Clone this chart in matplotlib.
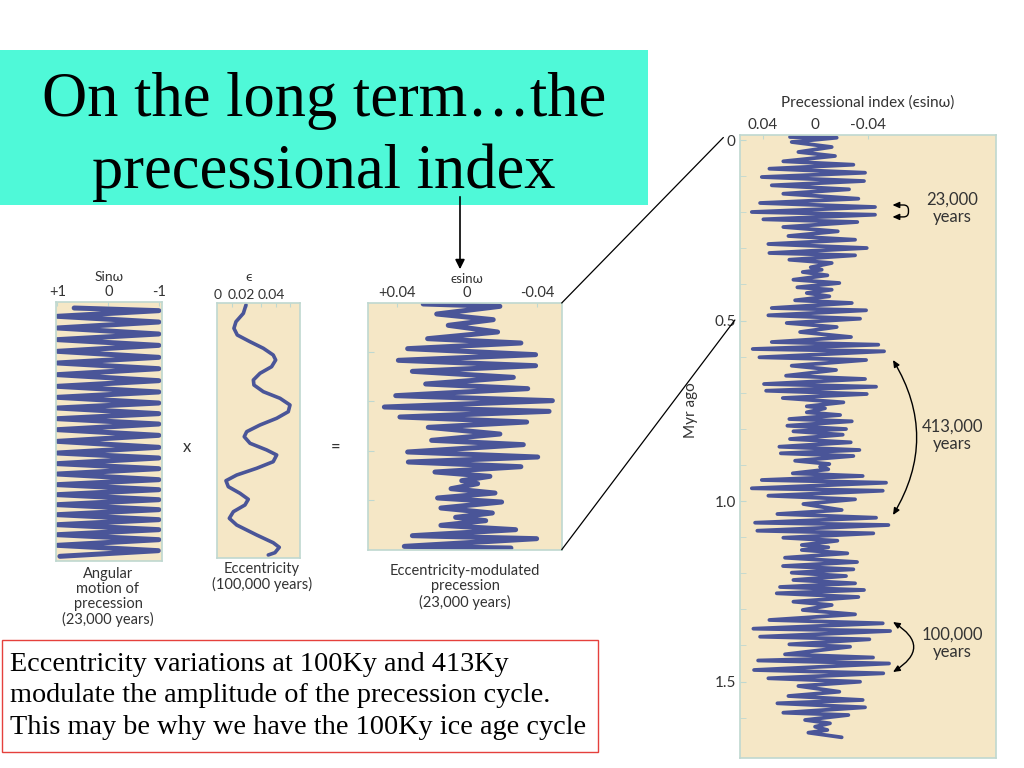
import matplotlib.pyplot as plt
from matplotlib.patches import Rectangle, ConnectionPatch, FancyArrowPatch

plt.rcParams['font.family'] = ['Lato', 'DejaVu Sans']

# ── 1. Data ─────────────────────────────────────────────────────────────────

# panel 1: angular motion of precession (sin w), time in Myr
sin_w_tempo = [0.0116, 0.0167, 0.0276, 0.0386, 0.0501, 0.0617, 0.0726, 0.0836, 0.0951, 0.1067,
               0.1176, 0.1286, 0.1401, 0.1517, 0.1626, 0.1735, 0.1838, 0.1948, 0.2044, 0.2153,
               0.2250, 0.2353, 0.2462, 0.2571, 0.2687, 0.2802, 0.2912, 0.3008, 0.3117, 0.3214,
               0.3317, 0.3426, 0.3522, 0.3619, 0.3715, 0.3812, 0.3908, 0.4004, 0.4101, 0.4197,
               0.4294, 0.4390, 0.4487, 0.4583, 0.4692, 0.4795, 0.4904]
sin_w_valor = [0.67, -0.99, 1.00, -0.99, 1.00, -0.99, 1.00, -0.99, 1.00, -0.99,
               1.00, -0.99, 1.00, -0.99, 1.00, -0.99, 1.00, -0.99, 1.00, -0.99,
               1.00, -0.99, 1.00, -0.99, 1.00, -0.99, 1.00, -0.99, 1.00, -0.99,
               1.00, -0.99, 1.00, -0.99, 1.00, -0.99, 1.00, -0.99, 1.00, -0.99,
               1.00, -0.99, 1.00, -0.99, 1.00, -0.98, 0.95]

# panel 2: eccentricity
exc_tempo = [0.0045, 0.0208, 0.0372, 0.0501, 0.0632, 0.0763, 0.0892, 0.1023, 0.1121, 0.1252,
             0.1381, 0.1512, 0.1610, 0.1741, 0.1870, 0.2001, 0.2132, 0.2261, 0.2392, 0.2523,
             0.2621, 0.2750, 0.2881, 0.2979, 0.3110, 0.3239, 0.3371, 0.3482, 0.3599, 0.3729,
             0.3846, 0.3957, 0.4088, 0.4218, 0.4349, 0.4544, 0.4695, 0.4785, 0.4890, 0.4935]
exc_valor = [0.0195, 0.0177, 0.0126, 0.0112, 0.0135, 0.0223, 0.0315, 0.0383, 0.0400, 0.0372,
             0.0292, 0.0246, 0.0250, 0.0315, 0.0430, 0.0499, 0.0487, 0.0407, 0.0292, 0.0200,
             0.0183, 0.0223, 0.0338, 0.0407, 0.0383, 0.0269, 0.0131, 0.0057, 0.0073, 0.0154,
             0.0211, 0.0188, 0.0108, 0.0080, 0.0131, 0.0269, 0.0383, 0.0425, 0.0395, 0.0349]

# panel 3: eccentricity-modulated precession (e sin w)
mod_tempo = [0.0020, 0.0068, 0.0224, 0.0339, 0.0454, 0.0589, 0.0725, 0.0813, 0.0928, 0.1050,
             0.1165, 0.1274, 0.1389, 0.1511, 0.1646, 0.1741, 0.1883, 0.1985, 0.2114, 0.2202,
             0.2317, 0.2419, 0.2527, 0.2663, 0.2791, 0.2879, 0.3028, 0.3130, 0.3232, 0.3327,
             0.3435, 0.3523, 0.3611, 0.3672, 0.3774, 0.3862, 0.3963, 0.4045, 0.4167, 0.4268,
             0.4356, 0.4424, 0.4519, 0.4607, 0.4729, 0.4790, 0.4946, 0.4980]
mod_valor = [0.0250, -0.0188, 0.0173, -0.0150, 0.0107, -0.0175, 0.0225, -0.0308, 0.0339, -0.0392,
             0.0392, -0.0392, 0.0312, -0.0265, 0.0236, -0.0347, 0.0407, -0.0488, 0.0472, -0.0469,
             0.0383, -0.0341, 0.0221, -0.0188, 0.0202, -0.0322, 0.0339, -0.0404, 0.0335, -0.0308,
             0.0183, -0.0131, 0.0030, -0.0061, 0.0091, -0.0160, 0.0168, -0.0198, 0.0149, -0.0145,
             0.0065, -0.0107, 0.0149, -0.0278, 0.0312, -0.0398, 0.0358, -0.0251]

# panel 4: precessional index over 1.65 Myr
prec_tempo = [-0.0083, -0.0064, 0.0055, 0.0194, 0.0332, 0.0443, 0.0590, 0.0684, 0.0795, 0.0906,
              0.1025, 0.1136, 0.1255, 0.1366, 0.1488, 0.1626, 0.1745, 0.1856, 0.1994, 0.2069,
              0.2197, 0.2271, 0.2410, 0.2529, 0.2659, 0.2762, 0.2881, 0.2992, 0.3130, 0.3194,
              0.3316, 0.3407, 0.3526, 0.3593, 0.3657, 0.3748, 0.3870, 0.3961, 0.4080, 0.4147,
              0.4238, 0.4330, 0.4440, 0.4515, 0.4654, 0.4717, 0.4856, 0.4950, 0.5069, 0.5180,
              0.5319, 0.5457, 0.5596, 0.5670, 0.5789, 0.5853, 0.6019, 0.6094, 0.6252, 0.6371,
              0.6529, 0.6620, 0.6759, 0.6834, 0.6945, 0.7036, 0.7147, 0.7266, 0.7377, 0.7432,
              0.7543, 0.7618, 0.7729, 0.7792, 0.7914, 0.8006, 0.8069, 0.8163, 0.8283, 0.8374,
              0.8496, 0.8587, 0.8679, 0.8753, 0.8884, 0.8975, 0.9050, 0.9122, 0.9233, 0.9307,
              0.9418, 0.9493, 0.9648, 0.9715, 0.9853, 0.9953, 1.0083, 1.0249, 1.0360, 1.0463,
              1.0601, 1.0665, 1.0823, 1.0895, 1.1017, 1.1100, 1.1219, 1.1283, 1.1357, 1.1449,
              1.1571, 1.1690, 1.1801, 1.1892, 1.1986, 1.2078, 1.2188, 1.2280, 1.2382, 1.2465,
              1.2557, 1.2659, 1.2789, 1.2881, 1.3019, 1.3139, 1.3296, 1.3388, 1.3537, 1.3601,
              1.3759, 1.3831, 1.3970, 1.4036, 1.4247, 1.4335, 1.4418, 1.4501, 1.4681, 1.4773,
              1.4911, 1.5006, 1.5125, 1.5283, 1.5402, 1.5512, 1.5604, 1.5715, 1.5864, 1.5928,
              1.6066, 1.6158, 1.6252, 1.6343, 1.6418, 1.6546]
prec_valor = [0.0191, -0.0165, 0.0178, -0.0127, 0.0127, -0.0152, 0.0242, -0.0292, 0.0348, -0.0381,
              0.0406, -0.0373, 0.0330, -0.0259, 0.0242, -0.0330, 0.0419, -0.0457, 0.0482, -0.0457,
              0.0394, -0.0322, 0.0242, -0.0173, 0.0203, -0.0305, 0.0356, -0.0394, 0.0348, -0.0305,
              0.0196, -0.0127, 0.0033, -0.0051, 0.0094, -0.0094, 0.0165, -0.0185, 0.0135, -0.0127,
              0.0063, -0.0109, 0.0152, -0.0280, 0.0330, -0.0389, 0.0356, -0.0343, 0.0216, -0.0165,
              0.0114, -0.0274, 0.0330, -0.0482, 0.0475, -0.0526, 0.0424, -0.0389, 0.0178, -0.0160,
              0.0221, -0.0381, 0.0389, -0.0465, 0.0373, -0.0394, 0.0246, -0.0216, 0.0063, -0.0076,
              0.0063, -0.0191, 0.0196, -0.0280, 0.0211, -0.0236, 0.0165, -0.0211, 0.0191, -0.0272,
              0.0272, -0.0338, 0.0261, -0.0292, 0.0152, -0.0109, -0.0038, -0.0101, 0.0170, -0.0363,
              0.0406, -0.0541, 0.0482, -0.0516, 0.0356, -0.0305, 0.0089, -0.0203, 0.0287, -0.0465,
              0.0457, -0.0559, 0.0440, -0.0444, 0.0242, -0.0170, 0.0101, -0.0101, 0.0101, -0.0246,
              0.0229, -0.0320, 0.0244, -0.0292, 0.0178, -0.0236, 0.0165, -0.0305, 0.0267, -0.0373,
              0.0292, -0.0330, 0.0165, -0.0127, 0.0094, -0.0305, 0.0348, -0.0516, 0.0470, -0.0572,
              0.0419, -0.0414, 0.0196, -0.0267, 0.0229, -0.0442, 0.0434, -0.0564, 0.0465, -0.0520,
              0.0356, -0.0343, 0.0127, -0.0185, 0.0203, -0.0363, 0.0287, -0.0381, 0.0242, -0.0254,
              0.0076, -0.0114, 0.0000, -0.0094, 0.0051, -0.0203]

titulo = 'On the long term…the\nprecessional index'
nota = ('Eccentricity variations at 100Ky and 413Ky\n'
        'modulate the amplitude of the precession cycle.\n'
        'This may be why we have the 100Ky ice age cycle')

# ── 2. Layout helpers ───────────────────────────────────────────────────────
W, H = 1024, 768


def caixa(x0, y0, x1, y1):
    # pixel box (top-left origin) -> figure fraction rect
    return [x0 / W, 1 - y1 / H, (x1 - x0) / W, (y1 - y0) / H]


def px(x, y):
    return (x / W, 1 - y / H)


FUNDO = '#f5e7c6'
BORDA = '#bfd8d0'
AZUL = '#4a5598'
TEXTO = '#333333'


def estilo(ax, topo, rotulos, titulo_eixo, fs=10.5):
    ax.set_facecolor(FUNDO)
    for s in ax.spines.values():
        s.set_color(BORDA)
        s.set_linewidth(1.2)
    ax.xaxis.tick_top()
    ax.set_xticks(topo)
    ax.set_xticklabels(rotulos)
    ax.xaxis.set_label_position('top')
    ax.set_xlabel(titulo_eixo, fontsize=fs - 0.5, color=TEXTO, labelpad=3)
    ax.tick_params(axis='x', direction='in', length=3, color=BORDA, labelsize=fs,
                   labelcolor=TEXTO, pad=2)
    ax.tick_params(axis='y', direction='in', length=4, color=BORDA, labelleft=False)
    ax.set_yticks([])


fig = plt.figure(figsize=(10.24, 7.68), dpi=100)

# ── 3. Slide decorations ────────────────────────────────────────────────────
fig.add_artist(Rectangle(px(0, 205), 648 / W, 155 / H, transform=fig.transFigure,
                         facecolor='#4ff9d8', edgecolor='none'))
fig.text(*px(324, 137), titulo, ha='center', va='center', family='Liberation Serif',
         fontsize=45, linespacing=1.32)
fig.add_artist(FancyArrowPatch(px(460, 194), px(460, 272), transform=fig.transFigure,
                               arrowstyle='-|>', mutation_scale=14, color='black', lw=1.2))

fig.add_artist(Rectangle(px(2, 752), 596 / W, 112 / H, transform=fig.transFigure,
                         facecolor='white', edgecolor='#e5403c', lw=1.0))
fig.text(*px(10, 696), nota, ha='left', va='center', family='Liberation Serif',
         fontsize=20.3, linespacing=1.34)

# ── 4. Small panels ─────────────────────────────────────────────────────────
ax_sin = fig.add_axes(caixa(56, 302, 161.7, 561.3))
ax_sin.plot(sin_w_valor, sin_w_tempo, color=AZUL, lw=3.6,
            solid_joinstyle='round', solid_capstyle='round')
ax_sin.set_xlim(1.026, -1.046)
ax_sin.set_ylim(0.5, 0)
estilo(ax_sin, [1, 0, -1], ['+1', '0', '-1'], 'Sinω')

ax_exc = fig.add_axes(caixa(216.7, 302.7, 300, 558.3))
ax_exc.plot(exc_valor, exc_tempo, color=AZUL, lw=2.6, solid_capstyle='round')
ax_exc.set_xlim(-0.0007, 0.0568)
ax_exc.set_ylim(0.5, 0)
estilo(ax_exc, [0.01, 0.02, 0.03, 0.04, 0.05], [], 'ϵ')
ax_exc.xaxis.set_label_coords(0.38, 1.085)
# labels are squeezed to the left in the original drawing
for xl, rot in [(218, '0'), (241, '0.02'), (271, '0.04')]:
    fig.text(*px(xl, 295), rot, ha='center', va='center', fontsize=10, color=TEXTO)

ax_mod = fig.add_axes(caixa(367.7, 303, 561.7, 549.7))
ax_mod.plot(mod_valor, mod_tempo, color=AZUL, lw=3.6,
            solid_joinstyle='round', solid_capstyle='round')
ax_mod.set_xlim(0.0567, -0.0541)
ax_mod.set_ylim(0.5014, 0)
estilo(ax_mod, [0.04, 0, -0.04], ['+0.04', '0', '-0.04'], 'ϵsinω')
ax_mod.set_yticks([0.1, 0.2, 0.3, 0.4])
ax_mod.xaxis.set_label_coords(0.51, 1.08)
ax_mod.xaxis.label.set_fontsize(9.5)

fig.text(*px(108, 597), 'Angular\nmotion of\nprecession\n(23,000 years)', ha='center',
         va='center', fontsize=10.5, color=TEXTO, linespacing=1.1)
fig.text(*px(262, 577), 'Eccentricity\n(100,000 years)', ha='center', va='center',
         fontsize=10.5, color=TEXTO, linespacing=1.1)
fig.text(*px(465, 587), 'Eccentricity-modulated\nprecession\n(23,000 years)', ha='center',
         va='center', fontsize=10.5, color=TEXTO, linespacing=1.1)
fig.text(*px(187, 447), 'x', ha='center', va='center', fontsize=12, color=TEXTO)
fig.text(*px(336, 447), '=', ha='center', va='center', fontsize=12, color=TEXTO)

# ── 5. Long record ──────────────────────────────────────────────────────────
ax_r = fig.add_axes(caixa(740, 135, 996, 758))
ax_r.plot(prec_valor, prec_tempo, color=AZUL, lw=2.7,
          solid_joinstyle='round', solid_capstyle='round')
ax_r.set_xlim(0.0572, -0.1379)
ax_r.set_ylim(1.7119, -0.0139)
estilo(ax_r, [0.04, 0, -0.04], ['0.04', '0', '-0.04'], 'Precessional index (ϵsinω)', fs=11)
ax_r.xaxis.label.set_fontsize(11)
ax_r.xaxis.labelpad = 8
ax_r.set_yticks([0, 0.5, 1.0, 1.5])
ax_r.set_yticklabels(['0', '0.5', '1.0', '1.5'])
ax_r.set_yticks([0.1, 0.2, 0.3, 0.4, 0.6, 0.7, 0.8, 0.9, 1.1, 1.2, 1.3, 1.4, 1.6], minor=True)
ax_r.tick_params(axis='y', which='both', direction='in', length=4, color=BORDA,
                 labelleft=True, labelsize=11, labelcolor=TEXTO, pad=3)
ax_r.set_ylabel('Myr ago', fontsize=11, color=TEXTO)
ax_r.yaxis.set_label_coords(-0.165, 0.559)

ax_r.text(-0.1044, 0.188, '23,000\nyears', ha='center', va='center', fontsize=12,
          color=TEXTO, linespacing=1.1)
ax_r.text(-0.1044, 0.817, '413,000\nyears', ha='center', va='center', fontsize=12,
          color=TEXTO, linespacing=1.1)
ax_r.text(-0.1044, 1.393, '100,000\nyears', ha='center', va='center', fontsize=12,
          color=TEXTO, linespacing=1.1)

seta = dict(arrowstyle='<|-|>,head_length=0.4,head_width=0.18', color='black', lw=1.0,
            shrinkA=0, shrinkB=0)
ax_r.annotate('', xy=(-0.0590, 0.1800), xytext=(-0.0590, 0.2130),
              arrowprops=dict(seta, connectionstyle='arc,angleA=0,angleB=0,armA=16,armB=16,rad=5'))
ax_r.annotate('', xy=(-0.0594, 0.6094), xytext=(-0.0594, 1.0388),
              arrowprops=dict(seta, connectionstyle='arc3,rad=0.3'))
ax_r.annotate('', xy=(-0.0594, 1.3352), xytext=(-0.0594, 1.4737),
              arrowprops=dict(seta, connectionstyle='arc3,rad=0.8'))

# connector lines from the middle panel to the long record
for ya, yb, xb in [(1, -0.007, -0.065), (0, 0.4986, -0.02)]:
    fig.add_artist(ConnectionPatch(xyA=(1, ya), coordsA=ax_mod.transAxes,
                                   xyB=(xb, yb), coordsB=ax_r.get_yaxis_transform(),
                                   color='black', lw=0.9))

plt.savefig('out.png', dpi=100, facecolor='white')
